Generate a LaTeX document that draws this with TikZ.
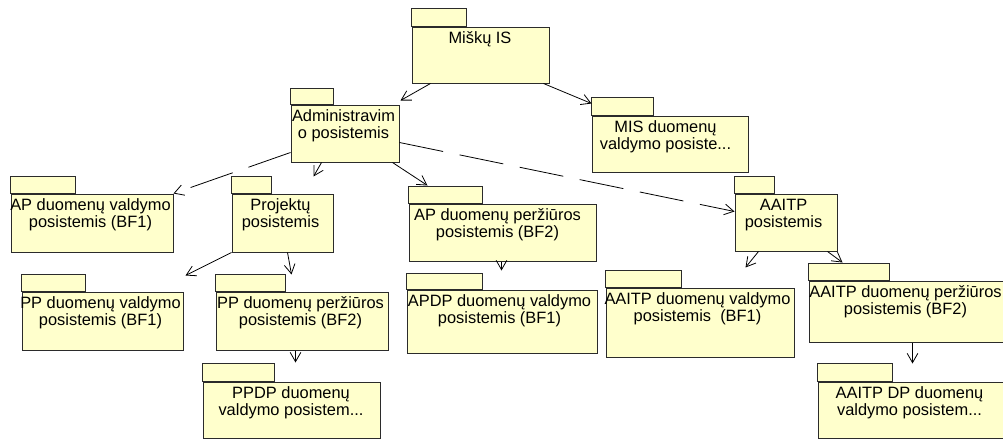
\documentclass[tikz,border=0pt]{standalone}
\usepackage{fontspec}
\setmainfont{Liberation Sans}
\usetikzlibrary{arrows.meta,calc,fit}
\definecolor{pkgfill}{HTML}{FFFFCC}
\definecolor{pkgline}{HTML}{2B2B2B}
% invisible rule fixing the height of each package's first text line
\newcommand\pkgstrut{\rule{0pt}{10.5pt}}
\begin{document}
\begin{tikzpicture}[x=0.75pt,y=-0.75pt,
  pkgbody/.style={rectangle,draw=pkgline,fill=pkgfill,line width=0.75pt,inner sep=0pt},
  pkgtab/.style={draw=pkgline,fill=pkgfill,line width=0.75pt},
  pkgtext/.style={anchor=north,align=center,inner sep=0pt,font=\fontsize{12.3}{12.75}\selectfont},
  dep/.style={line width=0.6pt,draw=black,-{Straight Barb[length=7pt,width=8pt]}},
  usedep/.style={dep,dash pattern=on 33.4pt off 12.6pt}]
\fill[white] (0,0) rectangle (1003,439);
\useasboundingbox (0,0) rectangle (1003,439);

% ---- packages: body, tab, title ----
\node[pkgbody,fit={(412,27)(549,83)}] (miskai) {};
\draw[pkgtab] (miskai.north west) rectangle ++(55,-18);
\node[pkgtext] (miskai-t) at ($(miskai.north west)+(68.5,3)$) {\pkgstrut Miškų IS};

\node[pkgbody,fit={(291,105)(399,162)}] (admin) {};
\draw[pkgtab] (admin.north west) rectangle ++(43,-16);
\node[pkgtext] (admin-t) at ($(admin.north west)+(53,3)$) {\pkgstrut Administravim\\o posistemis};

\node[pkgbody,fit={(592,116)(748,172)}] (mis) {};
\draw[pkgtab] (mis.north west) rectangle ++(62,-18);
\node[pkgtext] (mis-t) at ($(mis.north west)+(74,3)$) {\pkgstrut MIS duomenų\\valdymo posiste...};

\node[pkgbody,fit={(11,194)(173,252)}] (apv) {};
\draw[pkgtab] (apv.north west) rectangle ++(65,-17);
\node[pkgtext] (apv-t) at ($(apv.north west)+(80,3)$) {\pkgstrut AP duomenų valdymo\\posistemis (BF1)};

\node[pkgbody,fit={(232,194)(333,252)}] (proj) {};
\draw[pkgtab] (proj.north west) rectangle ++(40,-17);
\node[pkgtext] (proj-t) at ($(proj.north west)+(49,3)$) {\pkgstrut Projektų\\posistemis};

\node[pkgbody,fit={(409,204)(596,261)}] (app) {};
\draw[pkgtab] (app.north west) rectangle ++(74,-17);
\node[pkgtext] (app-t) at ($(app.north west)+(89,3)$) {\pkgstrut AP duomenų peržiūros\\posistemis (BF2)};

\node[pkgbody,fit={(735,194)(837,251)}] (aaitp) {};
\draw[pkgtab] (aaitp.north west) rectangle ++(40,-17);
\node[pkgtext] (aaitp-t) at ($(aaitp.north west)+(49,3)$) {\pkgstrut AAITP\\posistemis};

\node[pkgbody,fit={(22,292)(183,350)}] (ppv) {};
\draw[pkgtab] (ppv.north west) rectangle ++(64,-17);
\node[pkgtext] (ppv-t) at ($(ppv.north west)+(79,3)$) {\pkgstrut PP duomenų valdymo\\posistemis (BF1)};

\node[pkgbody,fit={(216,292)(388,350)}] (ppp) {};
\draw[pkgtab] (ppp.north west) rectangle ++(70,-17);
\node[pkgtext] (ppp-t) at ($(ppp.north west)+(85,3)$) {\pkgstrut PP duomenų peržiūros\\posistemis (BF2)};

\node[pkgbody,fit={(407,290)(597,353)}] (apdp) {};
\draw[pkgtab] (apdp.north west) rectangle ++(76,-16);
\node[pkgtext] (apdp-t) at ($(apdp.north west)+(93,3)$) {\pkgstrut APDP duomenų valdymo\\posistemis (BF1)};

\node[pkgbody,fit={(606,288)(794,357)}] (aav) {};
\draw[pkgtab] (aav.north west) rectangle ++(76,-17);
\node[pkgtext] (aav-t) at ($(aav.north west)+(92,3)$) {\pkgstrut AAITP duomenų valdymo\\posistemis~ (BF1)};

\node[pkgbody,fit={(809,281)(1004,342)}] (aap) {};
\draw[pkgtab] (aap.north west) rectangle ++(81,-17);
\node[pkgtext] (aap-t) at ($(aap.north west)+(97,3)$) {\pkgstrut AAITP duomenų peržiūros\\posistemis (BF2)};

\node[pkgbody,fit={(203,382)(380,438)}] (ppdp) {};
\draw[pkgtab] (ppdp.north west) rectangle ++(72,-18);
\node[pkgtext] (ppdp-t) at ($(ppdp.north west)+(88.5,3)$) {\pkgstrut PPDP duomenų\\valdymo posistem...};

\node[pkgbody,fit={(818,382)(1004,438)}] (aadp) {};
\draw[pkgtab] (aadp.north west) rectangle ++(75,-18);
\node[pkgtext] (aadp-t) at ($(aadp.north west)+(92,3)$) {\pkgstrut AAITP DP duomenų\\valdymo posistem...};

% ---- dependencies between packages ----
\draw[dep] ($(miskai.south west)+(19,0)$) -- ($(admin.north east)+(1,-4)$);
\draw[dep] ($(miskai.south east)+(-6,0)$) -- ($(mis.north west)+(0,-12)$);
\draw[usedep] ($(admin.south west)+(0,-10)$) -- (apv.north east);
\draw[dep] ($(admin.south west)+(31,0)$) -- ($(proj.north east)+(-20,-17)$);
\draw[dep] ($(admin.south east)+(-7,0)$) -- ($(app.north west)+(19,-18)$);
\draw[usedep] ($(admin.north east)+(0,38)$) -- ($(aaitp.north west)+(0,18)$);
\draw[dep] (proj.south west) -- ($(ppv.north east)+(2,-16)$);
\draw[dep] ($(proj.south east)+(-46,0)$) -- ($(ppp.north west)+(76,-17)$);
\draw[dep] ($(app.south west)+(93,0)$) -- ($(apdp.north west)+(95,-19)$);
\draw[dep] ($(aaitp.south west)+(24,0)$) -- ($(aav.north east)+(-49,-20)$);
\draw[dep] ($(aaitp.south east)+(-10,0)$) -- ($(aap.north west)+(34,-18)$);
\draw[dep] ($(ppp.south west)+(80,0)$) -- ($(ppdp.north west)+(93,-19)$);
\draw[dep] ($(aap.south west)+(104,0)$) -- ($(aadp.north west)+(95,-18)$);
\end{tikzpicture}
\end{document}
